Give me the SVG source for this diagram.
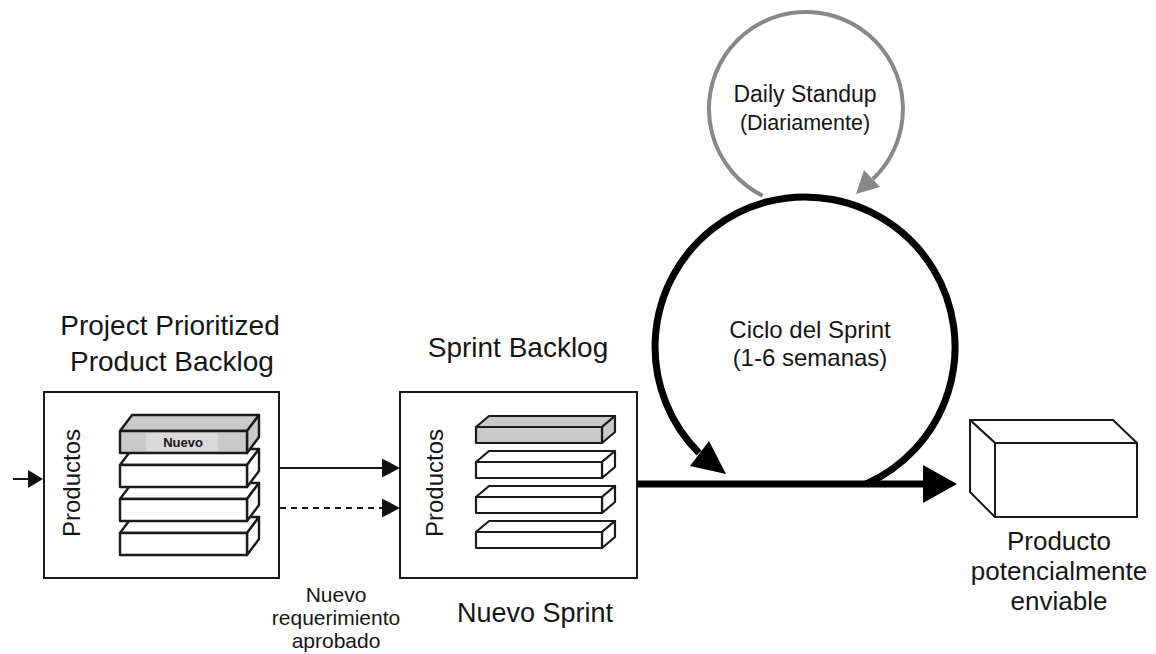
<svg xmlns="http://www.w3.org/2000/svg" width="1156" height="654" viewBox="0 0 1156 654">
<style>
text{font-family:"Liberation Sans",Arial,sans-serif;fill:#161616}
.box{fill:#fff;stroke:#1a1a1a;stroke-width:2}
.bar{fill:#fff;stroke:#1a1a1a;stroke-width:2.4;stroke-linejoin:round}
.sbar{fill:#fff;stroke:#1a1a1a;stroke-width:2.2;stroke-linejoin:round}
.gray{fill:#c9c9c9}
.ln{stroke:#1a1a1a;stroke-width:2;fill:none}
.head{font-size:28px;text-anchor:middle}
.mid{text-anchor:middle}
</style>
<defs>
<g id="lbar">
<polygon class="bar" points="0,0 12,-16 139,-16 127,0"/>
<polygon class="bar" points="127,0 139,-16 139,6 127,22"/>
<rect class="bar" x="0" y="0" width="127" height="22"/>
</g>
<g id="sbarShape">
<polygon class="sbar" points="0,0 13,-11 139,-11 126,0"/>
<polygon class="sbar" points="126,0 139,-11 139,5 126,16"/>
<rect class="sbar" x="0" y="0" width="126" height="16"/>
</g>
</defs>
<rect width="1156" height="654" fill="#fff"/>

<g id="product-backlog">
<text class="head" x="170" y="335">Project Prioritized</text>
<text class="head" x="172" y="371">Product Backlog</text>
<rect class="box" x="44" y="392" width="235" height="186"/>
<text font-size="24" text-anchor="middle" transform="translate(80,483) rotate(-90)">Productos</text>
<use href="#lbar" x="120" y="533"/>
<use href="#lbar" x="120" y="499"/>
<use href="#lbar" x="120" y="465"/>
<g>
<polygon class="bar gray" points="120,431 132,415 259,415 247,431"/>
<polygon class="bar gray" points="247,431 259,415 259,437 247,453"/>
<rect class="bar gray" x="120" y="431" width="127" height="22"/>
<rect x="146" y="433" width="72" height="18" fill="#d9d9d9"/>
<text x="183" y="447" font-size="13" font-weight="bold" text-anchor="middle">Nuevo</text>
</g>
</g>

<g id="sprint-backlog">
<text class="head" x="518" y="357">Sprint Backlog</text>
<rect class="box" x="400" y="392" width="237" height="186"/>
<text font-size="24" text-anchor="middle" transform="translate(443,483) rotate(-90)">Productos</text>
<use href="#sbarShape" x="476" y="532"/>
<use href="#sbarShape" x="476" y="497"/>
<use href="#sbarShape" x="476" y="462"/>
<g>
<polygon class="sbar gray" points="476,427 489,416 615,416 602,427"/>
<polygon class="sbar gray" points="602,427 615,416 615,432 602,443"/>
<rect class="sbar gray" x="476" y="427" width="126" height="16"/>
</g>
<text x="535" y="622" font-size="27" text-anchor="middle">Nuevo Sprint</text>
</g>

<g id="daily-standup">
<text x="805" y="102" font-size="23" class="mid">Daily Standup</text>
<text x="805" y="130" font-size="21.5" class="mid">(Diariamente)</text>
</g>

<g id="sprint-cycle">
<text x="810" y="338" font-size="24" class="mid">Ciclo del Sprint</text>
<text x="810" y="366" font-size="24" class="mid">(1-6 semanas)</text>
</g>

<g id="shippable-product">
<polygon points="970,420 1113,420 1137,443 995,443" fill="#fff" stroke="#1a1a1a" stroke-width="2" stroke-linejoin="round"/>
<polygon points="970,420 995,443 995,517 970,492" fill="#fff" stroke="#1a1a1a" stroke-width="2" stroke-linejoin="round"/>
<rect x="995" y="443" width="142" height="74" fill="#fff" stroke="#1a1a1a" stroke-width="2"/>
<text x="1059" y="550" font-size="26" class="mid">Producto</text>
<text x="1059" y="580" font-size="26" class="mid">potencialmente</text>
<text x="1059" y="610" font-size="26" class="mid">enviable</text>
</g>

<g id="requirement-label">
<text x="336" y="602" font-size="21" class="mid">Nuevo</text>
<text x="336" y="625" font-size="21" class="mid">requerimiento</text>
<text x="336" y="648" font-size="21" class="mid">aprobado</text>
</g>

<g id="connectors">
<line class="ln" x1="13" y1="479" x2="30" y2="479"/>
<polygon points="28,470 43,479 28,488" fill="#111"/>
<line class="ln" x1="279" y1="468" x2="384" y2="468"/>
<polygon points="382,458.5 400,468 382,477.5" fill="#111"/>
<line class="ln" x1="280" y1="508" x2="384" y2="508" stroke-dasharray="6,5"/>
<polygon points="382,498.5 400,508 382,517.5" fill="#111"/>
<path d="M 762.6 195.7 A 97 97 0 1 1 873 179" fill="none" stroke="#888" stroke-width="4"/>
<polygon points="880,187 864,170 856,194" fill="#888"/>
<path d="M 866 484 A 150 150 0 1 0 699 453" fill="none" stroke="#000" stroke-width="7"/>
<polygon points="690,466 709,441 726,474" fill="#000"/>
<line x1="637" y1="484" x2="926" y2="484" stroke="#000" stroke-width="7"/>
<polygon points="923,465 957,484 923,503" fill="#000"/>
</g>
</svg>
